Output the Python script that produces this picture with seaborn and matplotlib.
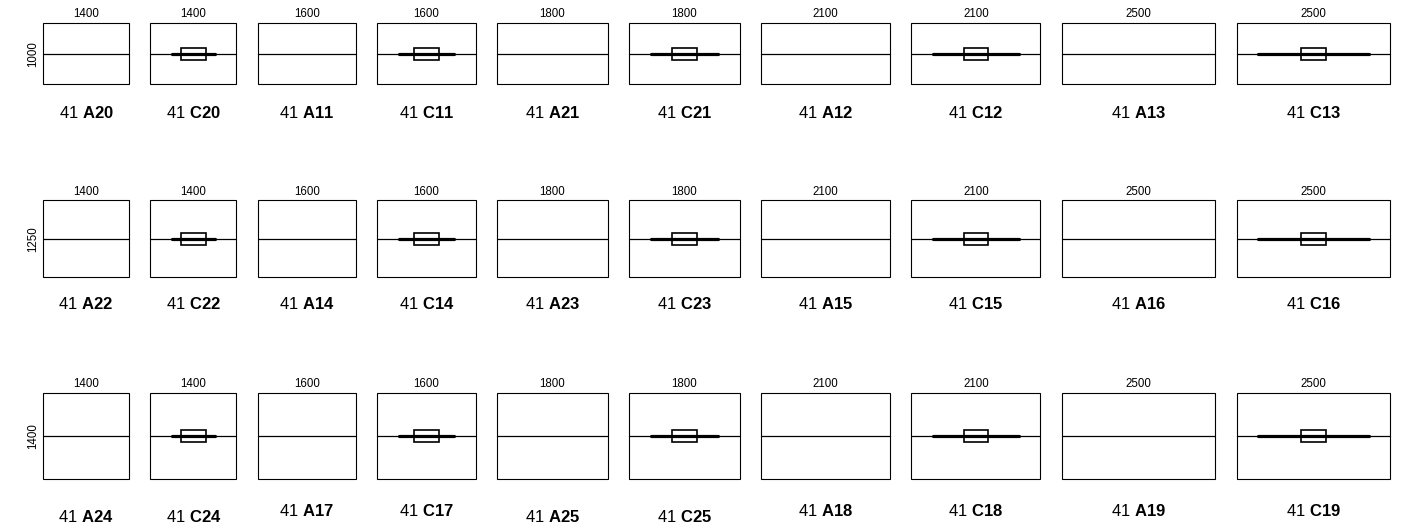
import pandas as pd
import matplotlib.pyplot as plt
from matplotlib.patches import Rectangle
import seaborn as sns

# panel sizes in mm
widths = [1400, 1400, 1600, 1600, 1800, 1800, 2100, 2100, 2500, 2500]
heights = [1000, 1250, 1400]
prefix = "41"
codes = [
    ["A20", "C20", "A11", "C11", "A21", "C21", "A12", "C12", "A13", "C13"],
    ["A22", "C22", "A14", "C14", "A23", "C23", "A15", "C15", "A16", "C16"],
    ["A24", "C24", "A17", "C17", "A25", "C25", "A18", "C18", "A19", "C19"],
]
# length of the thick rail on the C panels, per panel width
rail_len = {1400: 700, 1600: 900, 1800: 1100, 2100: 1400, 2500: 1800}
handle_w, handle_h = 400, 200

col_gap = 350
row_gap = 1890
px = 0.06137  # pixels per mm

sns.set_theme(style="white")
plt.rcParams['font.family'] = ['Liberation Sans', 'DejaVu Sans']
plt.rcParams['text.color'] = 'black'
plt.rcParams['mathtext.fontset'] = 'custom'
plt.rcParams['mathtext.rm'] = 'Liberation Sans'
plt.rcParams['mathtext.bf'] = 'Liberation Sans:bold'

fig = plt.figure(figsize=(14.04, 5.30), dpi=100)
ax = fig.add_axes([0, 0, 1, 1])

# x of each column and top of each row
xs = []
x = 0
for w in widths:
    xs.append(x)
    x += w + col_gap
tops = []
y = 0
for h in heights:
    tops.append(y)
    y -= h + row_gap

mid_rows = []
rail_rows = []
for r, h in enumerate(heights):
    top = tops[r]
    bottom = top - h
    mid = top - h / 2
    for c, w in enumerate(widths):
        x0 = xs[c]
        code = codes[r][c]
        ax.add_patch(Rectangle((x0, bottom), w, h, fill=False, ec='black', lw=0.8))
        mid_rows.append({'x': x0, 'y': mid, 'panel': code})
        mid_rows.append({'x': x0 + w, 'y': mid, 'panel': code})
        cx = x0 + w / 2
        if code.startswith('C'):
            L = rail_len[w]
            rail_rows.append({'x': cx - L / 2, 'y': mid, 'panel': code})
            rail_rows.append({'x': cx + L / 2, 'y': mid, 'panel': code})
            ax.add_patch(Rectangle((cx - handle_w / 2, mid - handle_h / 2), handle_w, handle_h,
                                   fill=False, ec='black', lw=1.2, zorder=4))
        # width label above
        ax.text(cx, top + 140, str(w), ha='center', va='center', fontsize=8.3, color='black')
        # code label below
        drop = [29, 27, 32][r]
        if r == 2 and c in (0, 1, 4, 5):
            drop = 38
        ax.text(cx, bottom - drop / px, prefix + r" $\mathbf{" + code + "}$",
                ha='center', va='center', fontsize=12, color='black')
    # height label on the left
    ax.text(-165, mid, str(h), rotation=90, ha='center', va='center', fontsize=8.3, color='black')

mid_df = pd.DataFrame(mid_rows)
rail_df = pd.DataFrame(rail_rows)
sns.lineplot(data=mid_df, x='x', y='y', units='panel', estimator=None, sort=False,
             color='black', linewidth=0.9, ax=ax)
sns.lineplot(data=rail_df, x='x', y='y', units='panel', estimator=None, sort=False,
             color='black', linewidth=2.3, ax=ax)

ax.set_xlim(-43 / px, (1404 - 43) / px)
ax.set_ylim(-(530 - 23) / px, 23 / px)
ax.set_axis_off()

fig.savefig('out.png', dpi=100)
